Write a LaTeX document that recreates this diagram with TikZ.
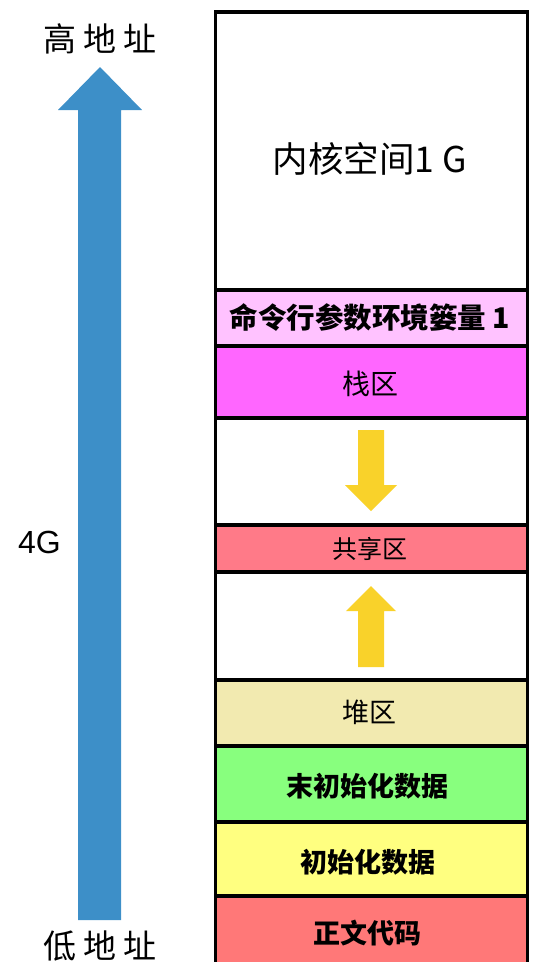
\documentclass[tikz,border=0pt]{standalone}
\usepackage{fontspec}
\setmainfont{Liberation Sans}
\newfontfamily\cjk{Noto Sans CJK SC}
\definecolor{blueA}{HTML}{3D8FC8}
\definecolor{goldA}{HTML}{F9D22A}
\definecolor{cmdC}{HTML}{FFC2FF}
\definecolor{stackC}{HTML}{FF66FF}
\definecolor{shareC}{HTML}{FF7A88}
\definecolor{heapC}{HTML}{F2EAB0}
\definecolor{bssC}{HTML}{88FF7E}
\definecolor{dataC}{HTML}{FFFF80}
\definecolor{textC}{HTML}{FF7878}
\begin{document}
\begin{tikzpicture}[x=1pt,y=-1pt,
  seg/.style={draw=black,line width=3.5pt},
  lbl/.style={font=\cjk\fontsize{#1}{#1}\selectfont,inner sep=0pt},
  blbl/.style={font=\cjk\bfseries\fontsize{#1}{#1}\selectfont,inner sep=0pt},
  bigarrow/.style={fill=blueA,draw=none},
  smallarrow/.style={fill=goldA,draw=none}]
\useasboundingbox (0,0) rectangle (555,962);
\clip (0,0) rectangle (555,962);
% segments
\path[seg,fill=white]  (215.5,12) rectangle (527.5,290);
\path[seg,fill=cmdC]   (215.5,290) rectangle (527.5,346);
\path[seg,fill=stackC] (215.5,346) rectangle (527.5,418);
\path[seg,fill=white]  (215.5,418) rectangle (527.5,525);
\path[seg,fill=shareC] (215.5,525) rectangle (527.5,572);
\path[seg,fill=white]  (215.5,572) rectangle (527.5,680);
\path[seg,fill=heapC]  (215.5,680) rectangle (527.5,746);
\path[seg,fill=bssC]   (215.5,746) rectangle (527.5,822);
\path[seg,fill=dataC]  (215.5,822) rectangle (527.5,896);
\path[seg,fill=textC]  (215.5,896) rectangle (527.5,990);
% labels
\node[lbl=35.5] (kernel) at (370,159) {内核空间1 G};
\node[blbl=28.5] (cmd) at (370,318) {命令行参数环境篓量 1};
\node[lbl=28] (stack) at (370,384) {栈区};
\node[lbl=25] (share) at (370,549) {共享区};
\node[lbl=27] (heap) at (369,712) {堆区};
\node[blbl=27] (bss) at (367,786) {末初始化数据};
\node[blbl=27] (data) at (368,862) {初始化数据};
\node[blbl=27] (text) at (367,933) {正文代码};
% yellow arrows
\path[smallarrow] (358,430) -- (384,430) -- (384,485) -- (397,485) -- (371,511)
  -- (345,485) -- (358,485) -- cycle;
\path[smallarrow] (358,667) -- (384,667) -- (384,611) -- (396,611) -- (371,586)
  -- (346,611) -- (358,611) -- cycle;
% blue arrow
\path[bigarrow] (78,920) -- (121,920) -- (121,110) -- (142,110) -- (100,67)
  -- (58,110) -- (78,110) -- cycle;
% side labels
\node[lbl=33] (high) at (100,39) {高\hspace{7pt}地\hspace{7pt}址};
\node[lbl=33] (low) at (100,946) {低\hspace{7pt}地\hspace{7pt}址};
\node[font=\fontsize{32}{32}\selectfont,inner sep=0pt] (four) at (39.5,542.5) {4G};
\end{tikzpicture}
\end{document}
